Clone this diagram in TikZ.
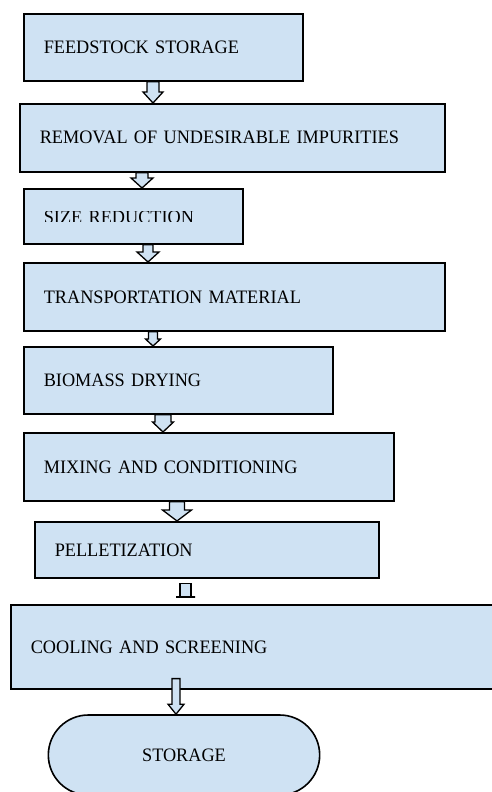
\documentclass[tikz,border=0pt]{standalone}
\usepackage{fontspec}
\setmainfont{Liberation Serif}[FakeStretch=0.96]
\usepackage{trimclip}
\usetikzlibrary{calc,shapes.misc}
\definecolor{boxblue}{RGB}{207,226,243}
\tikzset{
  stepbox/.style={draw=black, line width=1.6pt, fill=boxblue, rectangle, anchor=north west,
    inner xsep=20pt, inner ysep=0pt, align=left, font=\fontsize{19}{21}\selectfont, text=black},
  endbox/.style={draw=black, line width=1.6pt, fill=boxblue, rounded rectangle,
    font=\fontsize{19}{21}\selectfont, text=black, minimum width=278pt, minimum height=80pt},
  blockarr/.style={draw=black, line width=1.3pt, fill=boxblue, line join=miter},
}
\newcommand{\blockarrow}[6]{%
  \draw[blockarr] let \p1=(#1 |- #2), \p2=(#1 |- #3) in
    (\x1-#4,\y1) -- (\x1-#4,\y2+#6) -- (\x1-#5,\y2+#6) -- (\x1,\y2)
    -- (\x1+#5,\y2+#6) -- (\x1+#4,\y2+#6) -- (\x1+#4,\y1) -- cycle;}
\begin{document}
\begin{tikzpicture}[x=1pt,y=1pt]
\useasboundingbox (0,0) rectangle (491,-792);
\node[stepbox, minimum width=279pt, minimum height=67pt, text width=239pt] (n1) at (23,-13) {FEEDSTOCK STORAGE};
\node[stepbox, minimum width=425pt, minimum height=68pt, text width=385pt] (n2) at (19,-103) {REMOVAL OF UNDESIRABLE IMPURITIES};
\node[stepbox, minimum width=219pt, minimum height=55pt, text width=179pt] (n3) at (23,-188) {\clipbox{0pt 3pt 0pt 0pt}{SIZE REDUCTION}};
\node[stepbox, minimum width=421pt, minimum height=68pt, text width=381pt] (n4) at (23,-262) {TRANSPORTATION MATERIAL};
\node[stepbox, minimum width=309pt, minimum height=67pt, text width=269pt] (n5) at (23,-346) {BIOMASS DRYING};
\node[stepbox, minimum width=370pt, minimum height=68pt, text width=330pt] (n6) at (23,-432) {MIXING AND CONDITIONING};
\node[stepbox, minimum width=344pt, minimum height=56pt, text width=304pt] (n7) at (34,-521) {PELLETIZATION};
\node[stepbox, minimum width=500pt, minimum height=84pt, text width=460pt] (n8) at (10,-604) {COOLING AND SCREENING};
\node[endbox] (n9) at (184,-755) {STORAGE};
\coordinate (c1) at (153,0);
\coordinate (c2) at (142,0);
\coordinate (c3) at (148,0);
\coordinate (c4) at (153,0);
\coordinate (c5) at (163,0);
\coordinate (c6) at (177,0);
\coordinate (c7) at (185.5,0);
\coordinate (c8) at (176,0);
\coordinate (t7) at ($(n7.south)+(0,-5)$);
\coordinate (b7) at ($(n8.north)+(0,7)$);
\coordinate (t8) at ($(n8.south)+(0,11)$);
\blockarrow{c1}{n1.south}{n2.north}{6pt}{10pt}{11pt}
\blockarrow{c2}{n2.south}{n3.north}{6pt}{11pt}{10pt}
\blockarrow{c3}{n3.south}{n4.north}{5pt}{11pt}{10pt}
\blockarrow{c4}{n4.south}{n5.north}{4.5pt}{7.5pt}{7pt}
\blockarrow{c5}{n5.south}{n6.north}{8pt}{10.5pt}{10pt}
\blockarrow{c6}{n6.south}{n7.north}{7.5pt}{14.5pt}{11pt}
\blockarrow{c7}{t7}{b7}{5.5pt}{9.5pt}{0pt}
\blockarrow{c8}{t8}{n9.north}{4pt}{8pt}{10pt}
\end{tikzpicture}
\end{document}
